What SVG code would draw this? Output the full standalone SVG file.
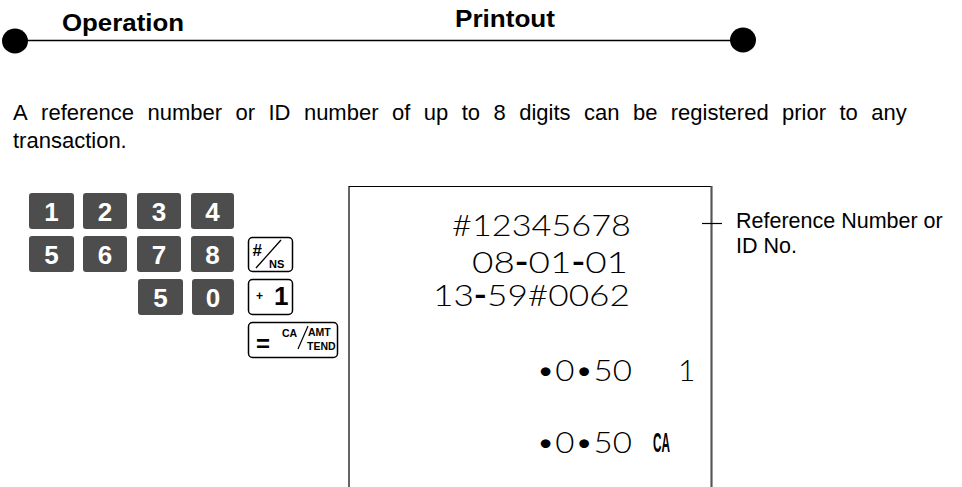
<svg xmlns="http://www.w3.org/2000/svg" width="962" height="487" viewBox="0 0 962 487">
<style>
.hdr{font-family:"Liberation Sans",Arial,sans-serif;font-weight:bold;font-size:23px;fill:#000}
.body{font-family:"Liberation Sans",Arial,sans-serif;font-size:22px;fill:#000}
.lbl{font-family:"Liberation Sans",Arial,sans-serif;font-size:21.5px;fill:#000}
.key{fill:#4d4d4d}
.kd{font-family:"Liberation Sans",Arial,sans-serif;font-weight:bold;font-size:26px;fill:#fff;text-anchor:middle}
.fk{fill:#fff;stroke:#000;stroke-width:1.5}
.fkt{font-family:"Liberation Sans",Arial,sans-serif;font-weight:bold;fill:#000}
.rc{font-family:Lato,Roboto,"Liberation Sans",sans-serif;font-weight:300;font-size:30px;fill:#000}
.dash{font-weight:700}
</style>

<g id="header">
  <line x1="15" y1="40.5" x2="743" y2="40.5" stroke="#000" stroke-width="1.4"/>
  <ellipse cx="15" cy="41" rx="13" ry="12.5" fill="#000"/>
  <ellipse cx="743" cy="40" rx="13" ry="12.5" fill="#000"/>
  <text class="hdr" x="62" y="31" textLength="122" lengthAdjust="spacingAndGlyphs">Operation</text>
  <text class="hdr" x="455" y="27" textLength="100" lengthAdjust="spacingAndGlyphs">Printout</text>
</g>

<g id="description">
  <text class="body" y="120">
    <tspan x="13">A</tspan><tspan x="41.1">reference</tspan><tspan x="147.5">number</tspan><tspan x="235.5">or</tspan><tspan x="268.5">ID</tspan><tspan x="303.9">number</tspan><tspan x="392">of</tspan><tspan x="423.8">up</tspan><tspan x="461.7">to</tspan><tspan x="493.5">8</tspan><tspan x="519.2">digits</tspan><tspan x="584">can</tspan><tspan x="632.9">be</tspan><tspan x="670.8">registered</tspan><tspan x="782">prior</tspan><tspan x="839.5">to</tspan><tspan x="871.3">any</tspan>
  </text>
  <text class="body" x="13" y="148">transaction.</text>
</g>

<g id="keys-numeric">
  <rect class="key" x="29" y="193" width="45" height="36" rx="3"/>
  <rect class="key" x="83" y="193" width="44" height="36" rx="3"/>
  <rect class="key" x="137" y="193" width="44" height="36" rx="3"/>
  <rect class="key" x="191" y="193" width="43" height="36" rx="3"/>
  <rect class="key" x="29" y="236" width="45" height="36" rx="3"/>
  <rect class="key" x="83" y="236" width="44" height="36" rx="3"/>
  <rect class="key" x="137" y="236" width="44" height="36" rx="3"/>
  <rect class="key" x="191" y="236" width="43" height="36" rx="3"/>
  <rect class="key" x="138" y="279" width="45" height="36" rx="3"/>
  <rect class="key" x="192" y="279" width="42" height="36" rx="3"/>
  <text class="kd" x="51.5" y="220.5">1</text>
  <text class="kd" x="105" y="220.5">2</text>
  <text class="kd" x="159" y="220.5">3</text>
  <text class="kd" x="212.5" y="220.5">4</text>
  <text class="kd" x="51.5" y="263.5">5</text>
  <text class="kd" x="105" y="263.5">6</text>
  <text class="kd" x="159" y="263.5">7</text>
  <text class="kd" x="212.5" y="263.5">8</text>
  <text class="kd" x="160.5" y="306.5">5</text>
  <text class="kd" x="213" y="306.5">0</text>
</g>

<g id="key-ns">
  <rect class="fk" x="248.5" y="237.5" width="44" height="34" rx="4"/>
  <text class="fkt" x="252.5" y="256" font-size="17">#</text>
  <line x1="256" y1="268" x2="281" y2="240" stroke="#000" stroke-width="1.3"/>
  <text class="fkt" x="269" y="268" font-size="11">NS</text>
</g>

<g id="key-plus1">
  <rect class="fk" x="248.5" y="279.5" width="44" height="35" rx="4"/>
  <text class="fkt" x="256" y="300" font-size="12">+</text>
  <text class="fkt" x="274" y="305" font-size="26">1</text>
</g>

<g id="key-ca">
  <rect class="fk" x="248.5" y="322.5" width="89" height="35" rx="4"/>
  <text class="fkt" x="256" y="352" font-size="24">=</text>
  <text class="fkt" x="282" y="337" font-size="10.5">CA</text>
  <line x1="298" y1="349" x2="308" y2="326" stroke="#000" stroke-width="1.2"/>
  <text class="fkt" x="308" y="336" font-size="10.5">AMT</text>
  <text class="fkt" x="307" y="350" font-size="10.5">TEND</text>
</g>

<g id="receipt">
  <path d="M349,487 V186.5 H711.5 V487" fill="none" stroke="#000" stroke-width="1.2"/>
  <line x1="711.5" y1="186" x2="711.5" y2="487" stroke="#555" stroke-width="2"/>
  <text class="rc" x="452" y="236" textLength="179" lengthAdjust="spacingAndGlyphs">#12345678</text>
  <text class="rc" x="472" y="273" textLength="156" lengthAdjust="spacingAndGlyphs">08<tspan class="dash">-</tspan>01<tspan class="dash">-</tspan>01</text>
  <text class="rc" x="433" y="306" textLength="197" lengthAdjust="spacingAndGlyphs">13<tspan class="dash">-</tspan>59#0062</text>
  <text class="rc" x="536" y="381" textLength="96" lengthAdjust="spacingAndGlyphs">•0•50</text>
  <text class="rc" x="678" y="381">1</text>
  <text class="rc" x="536" y="453" textLength="96" lengthAdjust="spacingAndGlyphs">•0•50</text>
  <text x="653" y="452" font-family="'Liberation Sans',Arial,sans-serif" font-weight="bold" font-size="27" textLength="17" lengthAdjust="spacingAndGlyphs">CA</text>
</g>

<g id="label-reference">
  <text class="lbl" x="736" y="228">Reference Number or</text>
  <text class="lbl" x="736" y="253">ID No.</text>
</g>

<g id="connectors">
  <line x1="702" y1="223.5" x2="722" y2="223.5" stroke="#000" stroke-width="1.2"/>
</g>
</svg>
